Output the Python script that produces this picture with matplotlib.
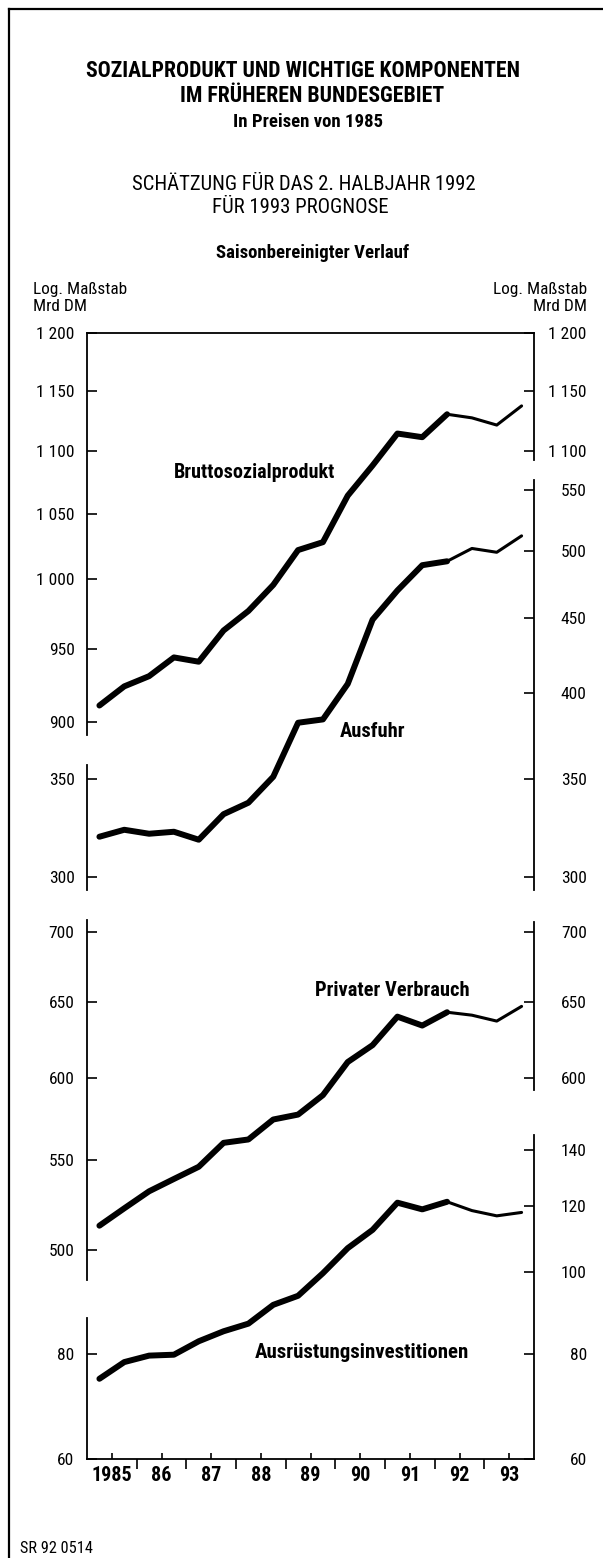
import numpy as np
import matplotlib
matplotlib.use("Agg")
import matplotlib.pyplot as plt
from matplotlib import font_manager as fm
from matplotlib.lines import Line2D
from matplotlib.ticker import NullLocator, FixedLocator

# ---------------- data ----------------
halbjahre = ["1985/1", "1985/2", "1986/1", "1986/2", "1987/1", "1987/2",
             "1988/1", "1988/2", "1989/1", "1989/2", "1990/1", "1990/2",
             "1991/1", "1991/2", "1992/1", "1992/2", "1993/1", "1993/2"]

bruttosozialprodukt = [911, 924, 931, 944, 941, 963, 977, 996, 1022, 1028,
                       1064, 1088, 1114, 1111, 1130, 1127, 1121, 1137]
ausfuhr = [319.5, 323, 321, 322, 318, 331, 337, 351, 382, 384,
           406, 449, 470, 489, 492, 502, 499, 512]
privater_verbrauch = [513, 522.5, 532, 539, 546, 560, 562, 574, 577, 589,
                      610, 621, 640, 634, 643, 641, 637, 647]
ausruestungsinvestitionen = [74.7, 78.2, 79.6, 79.8, 82.8, 85.1, 86.9, 91.5, 93.8, 99.8,
                             106.9, 112.4, 121.1, 118.9, 121.4, 118.5, 116.8, 117.9]
letzter_ist_wert = "1992/1"   # thick line up to here, thinner afterwards (estimate/forecast)

jahre = [1985, 1986, 1987, 1988, 1989, 1990, 1991, 1992, 1993]
jahr_labels = ["1985", "86", "87", "88", "89", "90", "91", "92", "93"]

bsp_ticks_l = [1200, 1150, 1100, 1050, 1000, 950, 900]
bsp_labels_l = ["1 200", "1 150", "1 100", "1 050", "1 000", "950", "900"]
bsp_ticks_r = [1200, 1150, 1100]
bsp_labels_r = ["1 200", "1 150", "1 100"]
aus_ticks_l = [350, 300]
aus_labels_l = ["350", "300"]
aus_ticks_r = [550, 500, 450, 400, 350, 300]
aus_labels_r = ["550", "500", "450", "400", "350", "300"]
pv_ticks_l = [700, 650, 600, 550, 500]
pv_labels_l = ["700", "650", "600", "550", "500"]
pv_ticks_r = [700, 650, 600]
pv_labels_r = ["700", "650", "600"]
ai_ticks_l = [80, 60]
ai_labels_l = ["80", "60"]
ai_ticks_r = [140, 120, 100, 80, 60]
ai_labels_r = ["140", "120", "100", "80", "60"]

# ---------------- fonts ----------------
def pick(fams):
    for f in fams:
        try:
            fm.findfont(fm.FontProperties(family=f), fallback_to_default=False)
            return f
        except Exception:
            pass
    return "DejaVu Sans"

FONT = pick(["Liberation Sans Narrow", "Roboto Condensed", "Liberation Sans", "Roboto"])
plt.rcParams["font.family"] = [FONT, "DejaVu Sans"]

W, H = 603, 1558
fig = plt.figure(figsize=(W / 100, H / 100), dpi=100)
fig.patch.set_facecolor("white")
renderer = fig.canvas.get_renderer()

def put(txt, x, y, width, ha="center", weight="normal"):
    t = fig.text(x / W, 1 - y / H, txt, ha=ha, va="baseline", fontsize=10,
                 fontweight=weight, color="black")
    w = t.get_window_extent(renderer=renderer).width
    t.set_fontsize(10 * width / w)
    return t

# frame lines (scan border)
fig.add_artist(Line2D([9 / W, 9 / W], [0, 1 - 9 / H], color="black", lw=1.6))
fig.add_artist(Line2D([9 / W, 1], [1 - 9 / H, 1 - 9 / H], color="black", lw=1.6))

# header
put("SOZIALPRODUKT UND WICHTIGE KOMPONENTEN", 303, 77, 431, weight="bold")
put("IM FRÜHEREN BUNDESGEBIET", 312, 102, 262, weight="bold")
put("In Preisen von 1985", 308, 127, 150, weight="bold")
put("SCHÄTZUNG FÜR DAS 2. HALBJAHR 1992", 304, 190, 342)
put("FÜR 1993 PROGNOSE", 300, 213, 177)
put("Saisonbereinigter Verlauf", 313, 258, 193, weight="bold")
put("Log. Maßstab", 33, 294, 94, ha="left")
put("Mrd DM", 33, 311, 54, ha="left")
put("Log. Maßstab", 587, 294, 94, ha="right")
put("Mrd DM", 587, 311, 54, ha="right")
put("SR 92 0514", 20, 1553, 72, ha="left")

# ---------------- axes layout ----------------
X0, X1, Y0, Y1 = 87, 534, 333, 1459
rect = [X0 / W, 1 - Y1 / H, (X1 - X0) / W, (Y1 - Y0) / H]

x = np.array([int(h[:4]) + (0.25 if h.endswith("/1") else 0.75) for h in halbjahre])
k_ist = halbjahre.index(letzter_ist_wert)

# (values, ref value, ref pixel, px per ln-unit, left spine px, right spine px, ticks...)
panels = [
    (bruttosozialprodukt, 1200, 333, 1352, (333, 735), (333, 460),
     bsp_ticks_l, bsp_labels_l, bsp_ticks_r, bsp_labels_r),
    (ausfuhr, 500, 551, 638, (765, 890), (480, 890),
     aus_ticks_l, aus_labels_l, aus_ticks_r, aus_labels_r),
    (privater_verbrauch, 650, 1002, 945, (920, 1280), (922, 1090),
     pv_ticks_l, pv_labels_l, pv_ticks_r, pv_labels_r),
    (ausruestungsinvestitionen, 120, 1206, 364.5, (1318, 1459), (1135, 1459),
     ai_ticks_l, ai_labels_l, ai_ticks_r, ai_labels_r),
]

TICKFS = 12.5
for i, (vals, ref, ref_px, kpx, lsp, rsp, tl, ll, tr, lr) in enumerate(panels):
    val_at = lambda px, ref=ref, ref_px=ref_px, kpx=kpx: ref * np.exp(-(px - ref_px) / kpx)
    ax = fig.add_axes(rect)
    ax.patch.set_alpha(0)
    ax.set_yscale("log")
    ax.set_xlim(1985, 1994)
    ax.set_ylim(val_at(Y1), val_at(Y0))
    for s in ["top", "bottom", "right"]:
        ax.spines[s].set_visible(False)
    ax.spines["left"].set_bounds(val_at(lsp[1]), val_at(lsp[0]))
    ax.spines["left"].set_linewidth(1.3)
    ax.yaxis.set_major_locator(FixedLocator(tl))
    ax.set_yticklabels(ll)
    ax.yaxis.set_minor_locator(NullLocator())
    ax.tick_params(axis="y", which="major", direction="in", length=7, width=1.2,
                   pad=9, labelsize=TICKFS)

    axr = ax.twinx()
    axr.patch.set_alpha(0)
    axr.set_yscale("log")
    axr.set_ylim(val_at(Y1), val_at(Y0))
    for s in ["top", "bottom", "left"]:
        axr.spines[s].set_visible(False)
    axr.spines["right"].set_bounds(val_at(rsp[1]), val_at(rsp[0]))
    axr.spines["right"].set_linewidth(1.3)
    axr.yaxis.set_major_locator(FixedLocator(tr))
    axr.set_yticklabels(lr)
    axr.yaxis.set_minor_locator(NullLocator())
    axr.tick_params(axis="y", which="major", direction="in", length=7, width=1.2,
                    pad=38, labelsize=TICKFS)
    for lab in axr.get_yticklabels():
        lab.set_horizontalalignment("right")

    if i == 0:
        ax.spines["top"].set_visible(True)
        ax.spines["top"].set_linewidth(1.3)
    if i == len(panels) - 1:
        ax.spines["bottom"].set_visible(True)
        ax.spines["bottom"].set_linewidth(1.3)
        ax.set_xticks([j + 0.5 for j in jahre], jahr_labels)
        ax.xaxis.set_minor_locator(FixedLocator(jahre[1:]))
        ax.tick_params(axis="x", which="major", direction="in", length=4, width=1.2,
                       pad=5, labelsize=14.5)
        ax.tick_params(axis="x", which="minor", direction="out", length=7, width=1.2)
        for lab in ax.get_xticklabels():
            lab.set_fontweight("bold")
    else:
        ax.set_xticks([])

    ax.plot(x[:k_ist + 1], vals[:k_ist + 1], color="black", lw=4.3,
            solid_capstyle="round", solid_joinstyle="round")
    ax.plot(x[k_ist:], vals[k_ist:], color="black", lw=2.2,
            solid_capstyle="round", solid_joinstyle="round")

# series labels
put("Bruttosozialprodukt", 174, 478, 161, ha="left", weight="bold")
put("Ausfuhr", 340, 737, 65, ha="left", weight="bold")
put("Privater Verbrauch", 315, 996, 155, ha="left", weight="bold")
put("Ausrüstungsinvestitionen", 255, 1358, 214, ha="left", weight="bold")

fig.savefig("out.png", dpi=100, facecolor="white")
